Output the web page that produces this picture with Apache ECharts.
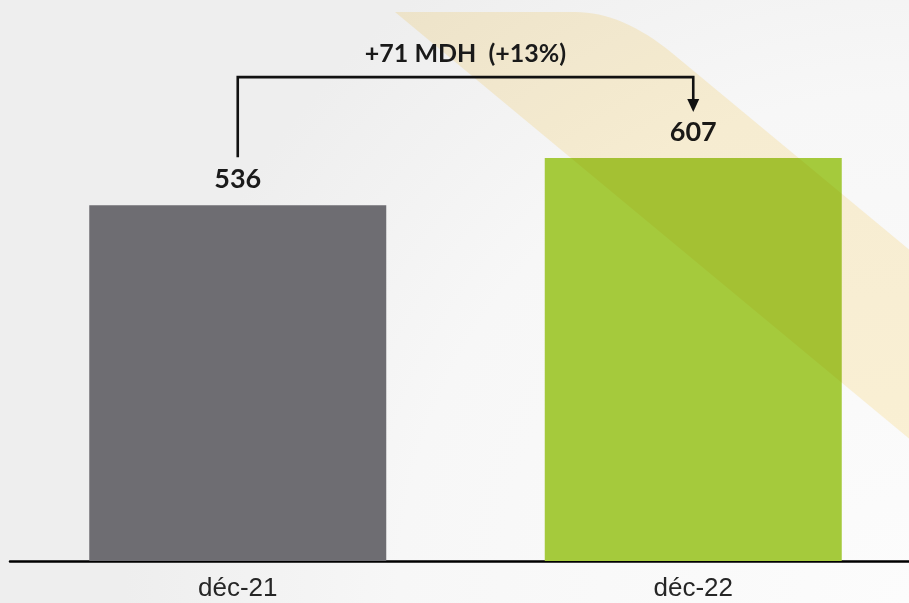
<!DOCTYPE html>
<html>
<head>
<meta charset="utf-8">
<script src="https://cdn.jsdelivr.net/npm/echarts@6/dist/echarts.min.js"></script>
<style>
  html, body { margin: 0; padding: 0; }
  #chart { width: 909px; height: 603px; }
</style>
</head>
<body>
<div id="chart"></div>
<script>
// Encours (MDH) par période
const categories = ['déc-21', 'déc-22'];
const values = [536, 607];
const barColors = ['#6e6d72', '#a5ca3c'];

const diff = values[1] - values[0];
const pct = Math.round(diff / values[0] * 100);
const deltaText = (diff >= 0 ? '+' : '') + diff + ' MDH  (' + (pct >= 0 ? '+' : '') + pct + '%)';

const chart = echarts.init(document.getElementById('chart'), null, { renderer: 'canvas' });

const option = {
  animation: false,
  backgroundColor: {
    type: 'radial', x: 1, y: 1, r: 1.3,
    colorStops: [
      { offset: 0, color: '#fcfcfc' },
      { offset: 0.65, color: '#f7f7f7' },
      { offset: 1, color: '#eeeeee' }
    ]
  },
  grid: { left: 10, width: 911, top: 30, bottom: 42, outerBoundsMode: 'none' },
  xAxis: {
    type: 'category',
    data: categories,
    axisLine: { lineStyle: { color: '#000', width: 2.5 } },
    axisTick: { show: false },
    axisLabel: {
      color: '#262626',
      fontFamily: 'Liberation Sans',
      fontSize: 26,
      margin: 15
    }
  },
  yAxis: {
    type: 'value', min: 0, max: 800,
    show: false,
    splitLine: { show: false }
  },
  series: [{
    type: 'bar',
    barWidth: 297,
    data: values.map((v, i) => ({ value: v, itemStyle: { color: barColors[i] } })),
    label: {
      show: true,
      position: 'top',
      distance: 12,
      color: '#1a1a1a',
      fontFamily: 'Lato',
      fontWeight: 'bold',
      fontSize: 27
    }
  }]
};

chart.setOption(option);

// Annotation: bracket from the first bar to the second
const p0 = chart.convertToPixel({ xAxisIndex: 0, yAxisIndex: 0 }, [0, values[0]]);
const p1 = chart.convertToPixel({ xAxisIndex: 0, yAxisIndex: 0 }, [1, values[1]]);
const yBracket = p1[1] - 81;
const yStemEnd = p0[1] - 48;
const yTip = p1[1] - 46;

// Diagonal decorative band with a rounded top corner
function bandPoints() {
  const pts = [[395, 12]];
  const a = [575, 12], c = [622, 12], b = [672, 53];
  for (let i = 0; i <= 16; i++) {
    const t = i / 16, u = 1 - t;
    pts.push([u * u * a[0] + 2 * u * t * c[0] + t * t * b[0],
              u * u * a[1] + 2 * u * t * c[1] + t * t * b[1]]);
  }
  pts.push([1100, 408], [1100, 597]);
  return pts;
}

chart.setOption({
  graphic: [
    {
      type: 'polygon',
      z: 3,
      silent: true,
      shape: { points: bandPoints() },
      style: { fill: '#fef4d8', blend: 'multiply' }
    },
    {
      type: 'polyline',
      z: 5,
      silent: true,
      shape: { points: [[p0[0], yStemEnd], [p0[0], yBracket], [p1[0], yBracket], [p1[0], yTip - 11]] },
      style: { stroke: '#111', lineWidth: 2.6, fill: null }
    },
    {
      type: 'polygon',
      z: 5,
      silent: true,
      shape: { points: [[p1[0] - 6, yTip - 13], [p1[0] + 6, yTip - 13], [p1[0], yTip]] },
      style: { fill: '#111' }
    },
    {
      type: 'text',
      z: 5,
      silent: true,
      x: (p0[0] + p1[0]) / 2,
      y: yBracket - 23,
      style: {
        text: deltaText,
        fill: '#1a1a1a',
        font: 'bold 25px Lato',
        align: 'center',
        verticalAlign: 'middle'
      }
    }
  ]
});
</script>
</body>
</html>
